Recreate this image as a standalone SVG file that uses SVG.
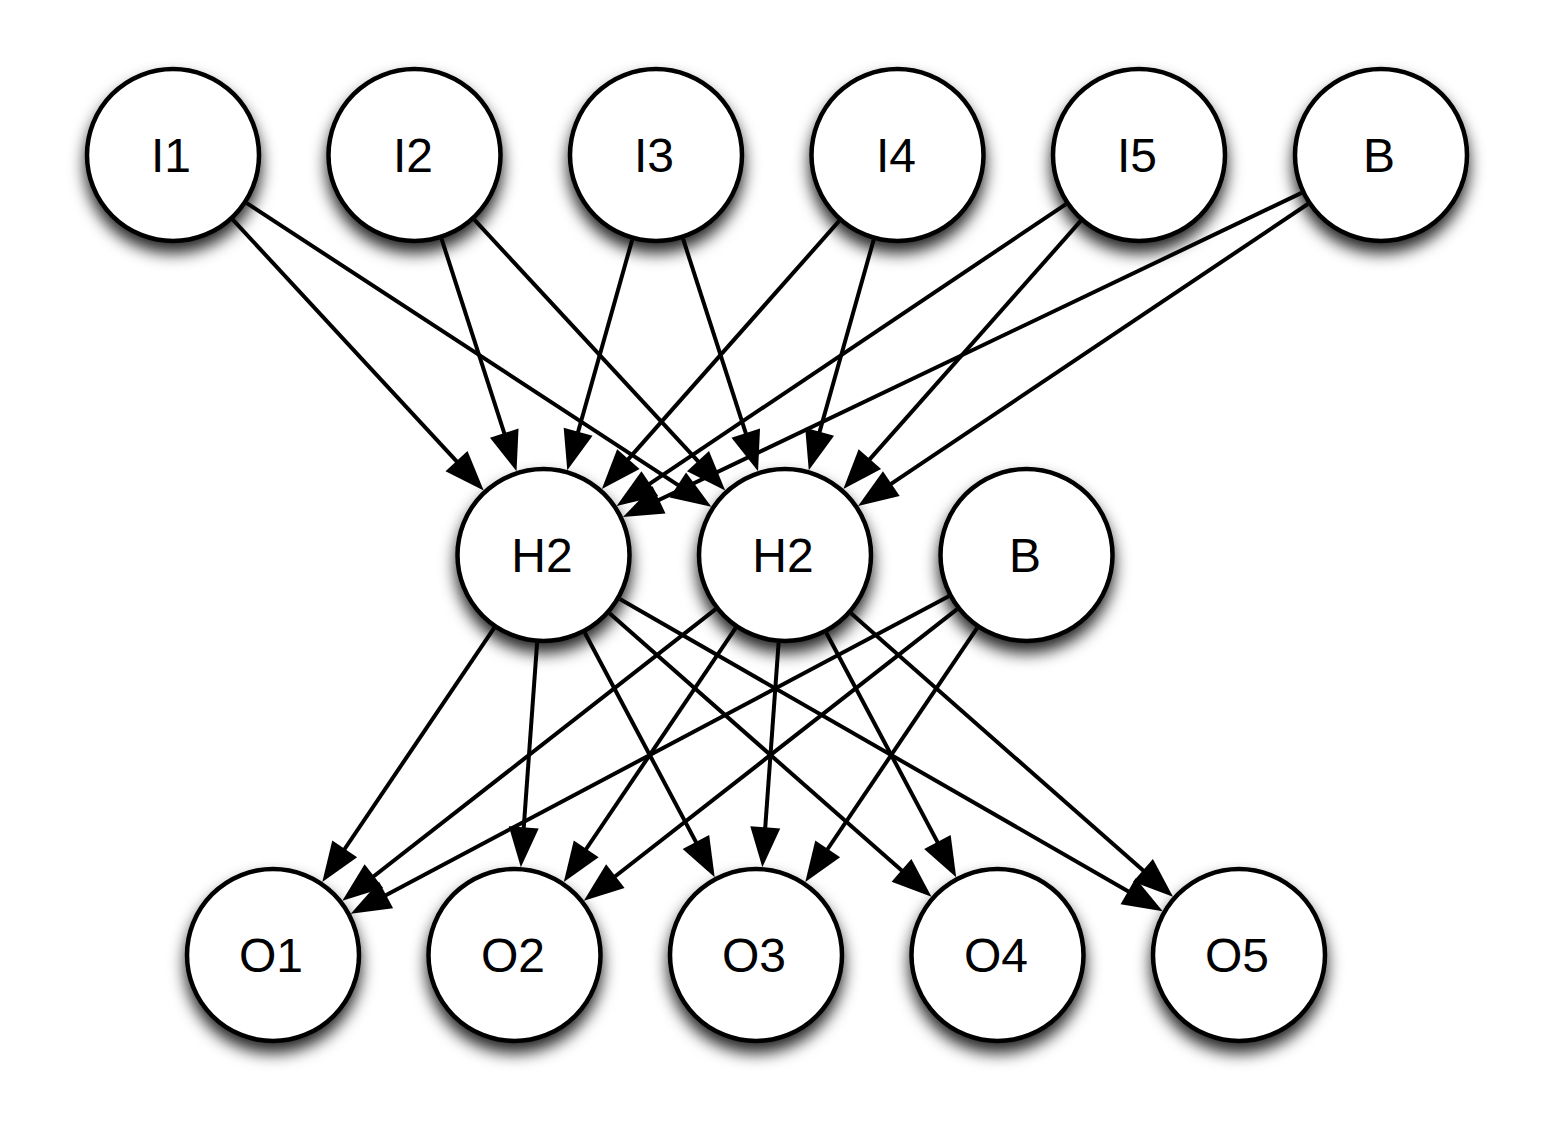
<svg xmlns="http://www.w3.org/2000/svg" width="1554" height="1141" viewBox="0 0 1554 1141">
<defs>
<filter id="sh" x="-30%" y="-30%" width="160%" height="170%">
<feDropShadow dx="0" dy="10" stdDeviation="8" flood-color="#000" flood-opacity="0.85"/>
</filter>
<marker id="ah" markerUnits="userSpaceOnUse" markerWidth="42" markerHeight="32" refX="20" refY="15" orient="auto" overflow="visible">
<path d="M0,0 L40,15 L0,30 z" fill="#000"/>
</marker>
<style>
.n circle{fill:#fff;stroke:#000;stroke-width:4.5;filter:url(#sh)}
.n text{font-family:"Liberation Sans",Arial,sans-serif;font-size:48px;text-anchor:middle;fill:#000}
#edges line{stroke:#000;stroke-width:4;marker-end:url(#ah)}
</style>
</defs>
<rect width="1554" height="1141" fill="#fff"/>
<g id="nodes">
<g id="I1" class="n"><circle cx="173" cy="155" r="86"/><text x="171" y="172">I1</text></g>
<g id="I2" class="n"><circle cx="414.5" cy="155" r="86"/><text x="413" y="172">I2</text></g>
<g id="I3" class="n"><circle cx="656" cy="155" r="86"/><text x="654" y="172">I3</text></g>
<g id="I4" class="n"><circle cx="897.5" cy="155" r="86"/><text x="896" y="172">I4</text></g>
<g id="I5" class="n"><circle cx="1139" cy="155" r="86"/><text x="1137" y="172">I5</text></g>
<g id="B1" class="n"><circle cx="1381" cy="155" r="86"/><text x="1379" y="172">B</text></g>
<g id="H2a" class="n"><circle cx="543.5" cy="555" r="86"/><text x="542" y="572">H2</text></g>
<g id="H2b" class="n"><circle cx="785" cy="555" r="86"/><text x="783" y="572">H2</text></g>
<g id="B2" class="n"><circle cx="1026.5" cy="555" r="86"/><text x="1025" y="572">B</text></g>
<g id="O1" class="n"><circle cx="273" cy="955" r="86"/><text x="271" y="972">O1</text></g>
<g id="O2" class="n"><circle cx="514.5" cy="955" r="86"/><text x="513" y="972">O2</text></g>
<g id="O3" class="n"><circle cx="756" cy="955" r="86"/><text x="754" y="972">O3</text></g>
<g id="O4" class="n"><circle cx="997.5" cy="955" r="86"/><text x="996" y="972">O4</text></g>
<g id="O5" class="n"><circle cx="1239" cy="955" r="86"/><text x="1237" y="972">O5</text></g>
</g>
<g id="edges">
<line x1="232.8" y1="219.6" x2="470.1" y2="475.8"/>
<line x1="246.7" y1="203.1" x2="694.6" y2="495.9"/>
<line x1="441.5" y1="238.7" x2="510.4" y2="452.2"/>
<line x1="474.3" y1="219.6" x2="711.6" y2="475.8"/>
<line x1="632.2" y1="239.7" x2="572.7" y2="451.0"/>
<line x1="683.0" y1="238.7" x2="751.9" y2="452.2"/>
<line x1="839.2" y1="220.9" x2="615.1" y2="474.1"/>
<line x1="873.7" y1="239.7" x2="814.2" y2="451.0"/>
<line x1="1066.0" y1="204.1" x2="633.2" y2="494.8"/>
<line x1="1080.7" y1="220.9" x2="856.6" y2="474.1"/>
<line x1="1301.6" y1="192.9" x2="641.0" y2="508.5"/>
<line x1="1307.9" y1="204.0" x2="874.7" y2="494.8"/>
<line x1="494.2" y1="627.9" x2="333.5" y2="865.5"/>
<line x1="537.1" y1="642.8" x2="522.3" y2="847.3"/>
<line x1="584.8" y1="632.7" x2="705.3" y2="859.6"/>
<line x1="609.5" y1="613.2" x2="916.5" y2="883.6"/>
<line x1="619.8" y1="598.9" x2="1145.4" y2="901.2"/>
<line x1="715.7" y1="609.2" x2="358.1" y2="888.5"/>
<line x1="735.7" y1="627.9" x2="575.0" y2="865.5"/>
<line x1="778.6" y1="642.8" x2="763.8" y2="847.3"/>
<line x1="826.3" y1="632.7" x2="946.8" y2="859.6"/>
<line x1="851.0" y1="613.2" x2="1158.0" y2="883.6"/>
<line x1="948.8" y1="596.3" x2="368.4" y2="904.4"/>
<line x1="957.2" y1="609.2" x2="599.6" y2="888.5"/>
<line x1="977.2" y1="627.9" x2="816.5" y2="865.5"/>
</g>
</svg>
